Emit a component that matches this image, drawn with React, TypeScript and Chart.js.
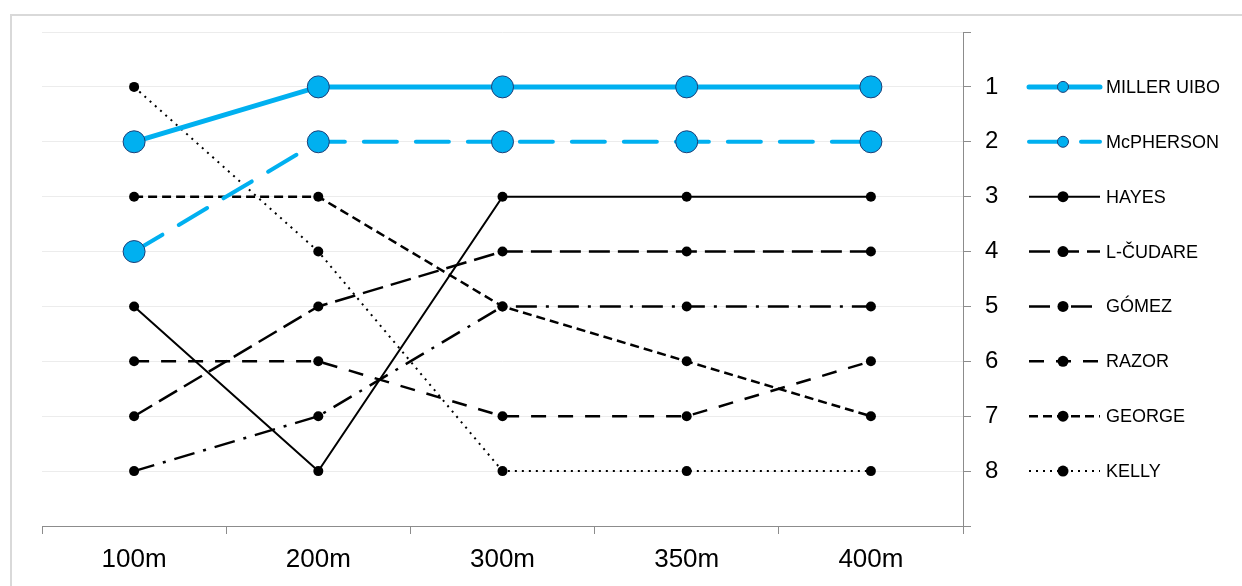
import { useEffect, useRef } from 'react';
import { Chart, registerables } from 'chart.js';

Chart.register(...registerables);

const FONT = '"Liberation Sans", Arial, sans-serif';

const CATEGORIES = ['100m', '200m', '300m', '350m', '400m'];
const RANK_LABELS = [1, 2, 3, 4, 5, 6, 7, 8];

const MILLER_UIBO = [2, 1, 1, 1, 1];
const MCPHERSON = [4, 2, 2, 2, 2];
const HAYES = [5, 8, 3, 3, 3];
const L_CUDARE = [7, 5, 4, 4, 4];
const GOMEZ = [8, 7, 5, 5, 5];
const RAZOR = [6, 6, 7, 7, 6];
const GEORGE = [3, 3, 5, 6, 7];
const KELLY = [1, 4, 8, 8, 8];

const BLUE = '#00b0f0';
const NAVY = '#1f3f77';
const AXIS = '#8c8c8c';

function blackSeries(label: string, data: number[], dash: number[], width: number) {
  return {
    label,
    data,
    borderColor: '#000',
    backgroundColor: '#000',
    borderWidth: width,
    borderDash: dash,
    pointRadius: 5,
    pointBackgroundColor: '#000',
    pointBorderColor: '#000',
    pointBorderWidth: 0,
    tension: 0,
  };
}

const borderPlugin = {
  id: 'outerBorder',
  beforeDraw(chart: any) {
    const ctx = chart.ctx;
    ctx.save();
    ctx.fillStyle = '#fff';
    ctx.fillRect(0, 0, chart.width, chart.height);
    ctx.strokeStyle = '#d9d9d9';
    ctx.lineWidth = 2;
    ctx.strokeRect(11, 15, 1400, 800);
    ctx.restore();
  },
};

const legendPlugin = {
  id: 'sideLegend',
  afterDraw(chart: any) {
    const ctx = chart.ctx;
    const yScale = chart.scales.y;
    const x0 = 1029;
    const x1 = 1100;
    const xm = 1063;
    chart.data.datasets.forEach((ds: any, i: number) => {
      const y = yScale.getPixelForValue(RANK_LABELS[i]);
      ctx.save();
      ctx.strokeStyle = ds.borderColor;
      ctx.lineWidth = ds.borderWidth;
      ctx.lineCap = ds.borderCapStyle || 'butt';
      ctx.setLineDash(ds.borderDash || []);
      ctx.beginPath();
      ctx.moveTo(x0, y);
      ctx.lineTo(x1, y);
      ctx.stroke();
      ctx.setLineDash([]);
      ctx.beginPath();
      ctx.arc(xm, y, 5.5, 0, Math.PI * 2);
      ctx.fillStyle = ds.pointBackgroundColor;
      ctx.fill();
      if (ds.pointBorderWidth) {
        ctx.lineWidth = ds.pointBorderWidth;
        ctx.strokeStyle = ds.pointBorderColor;
        ctx.stroke();
      }
      ctx.fillStyle = '#000';
      ctx.font = `18px ${FONT}`;
      ctx.textAlign = 'left';
      ctx.textBaseline = 'middle';
      ctx.fillText(ds.label, 1106, y + 1);
      ctx.restore();
    });
  },
};

export default function App() {
  const ref = useRef<HTMLCanvasElement>(null);

  useEffect(() => {
    const chart = new Chart(ref.current as HTMLCanvasElement, {
      type: 'line',
      data: {
        labels: CATEGORIES,
        datasets: [
          {
            label: 'MILLER UIBO',
            data: MILLER_UIBO,
            borderColor: BLUE,
            backgroundColor: BLUE,
            borderWidth: 5,
            borderCapStyle: 'round',
            pointRadius: 11,
            pointBackgroundColor: BLUE,
            pointBorderColor: NAVY,
            pointBorderWidth: 1,
            tension: 0,
          },
          {
            label: 'McPHERSON',
            data: MCPHERSON,
            borderColor: BLUE,
            backgroundColor: BLUE,
            borderWidth: 4,
            borderDash: [33, 19],
            borderCapStyle: 'round',
            pointRadius: 11,
            pointBackgroundColor: BLUE,
            pointBorderColor: NAVY,
            pointBorderWidth: 1,
            tension: 0,
          },
          blackSeries('HAYES', HAYES, [], 2),
          blackSeries('L-ČUDARE', L_CUDARE, [21, 8], 2.5),
          blackSeries('GÓMEZ', GOMEZ, [21, 9, 3, 9], 2.5),
          blackSeries('RAZOR', RAZOR, [15, 12], 2.5),
          blackSeries('GEORGE', GEORGE, [9, 5], 2.5),
          blackSeries('KELLY', KELLY, [2, 5], 2),
        ] as any,
      },
      options: {
        responsive: false,
        maintainAspectRatio: false,
        animation: false,
        devicePixelRatio: 1,
        layout: { padding: { left: 42, top: 32, right: 0, bottom: 0 } },
        plugins: {
          legend: { display: false },
          tooltip: { enabled: false },
        },
        scales: {
          x: {
            type: 'category',
            offset: true,
            grid: {
              display: true,
              drawOnChartArea: false,
              drawTicks: true,
              tickLength: 8,
              tickColor: AXIS,
              offset: true,
            },
            border: { display: true, color: AXIS, width: 1 },
            ticks: {
              color: '#000',
              font: { size: 26, family: FONT },
              padding: 10,
              maxRotation: 0,
            },
            afterFit: (s: any) => {
              s.height = 60;
            },
          },
          y: {
            position: 'right',
            min: 0,
            max: 9,
            reverse: true,
            grid: {
              color: '#ececec',
              tickColor: AXIS,
              tickLength: 8,
            },
            border: { display: true, color: AXIS, width: 1 },
            ticks: {
              stepSize: 1,
              color: '#000',
              font: { size: 24, family: FONT },
              padding: 14,
              callback: (v: any) => (RANK_LABELS.includes(Number(v)) ? String(v) : ''),
            },
            afterFit: (s: any) => {
              s.width = 279;
            },
          },
        },
      },
      plugins: [borderPlugin, legendPlugin],
    } as any);
    return () => chart.destroy();
  }, []);

  return (
    <canvas
      ref={ref}
      width={1242}
      height={586}
      style={{ position: 'fixed', left: 0, top: 0, width: 1242, height: 586 }}
    />
  );
}
